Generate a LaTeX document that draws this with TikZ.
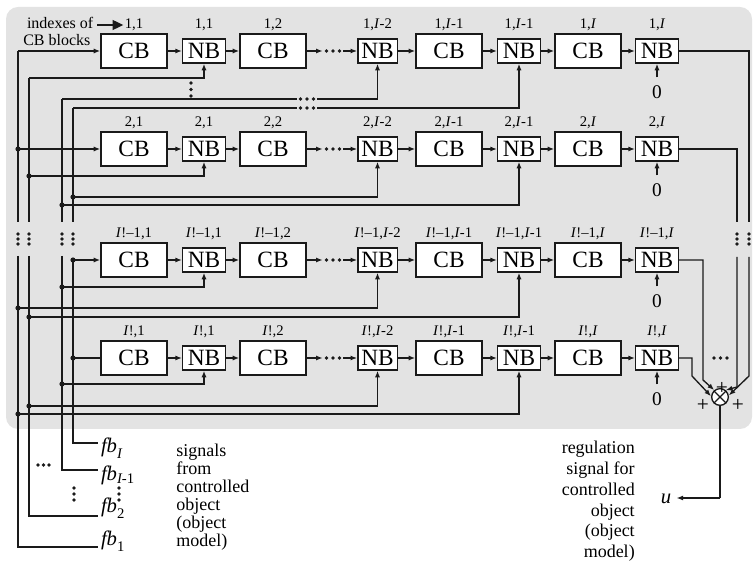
\documentclass[tikz,border=0pt]{standalone}
\usepackage{fontspec}
\setmainfont{Liberation Serif}
\usetikzlibrary{arrows.meta,calc}

\definecolor{panel}{HTML}{E3E3E3}
\definecolor{ink}{HTML}{1A1A1A}

\tikzset{
  wire/.style={draw=ink, line width=1pt},
  arr/.style={wire, -{Latex[length=5pt,width=3.8pt]}},
  cbbox/.style={draw=ink, line width=1pt, fill=white, inner sep=0pt,
    minimum width=49.5pt, minimum height=25.5pt,
    font=\fontsize{17.5}{17.5}\selectfont},
  nbbox/.style={cbbox, minimum width=32pt, minimum height=18pt},
  nbnarrow/.style={nbbox, minimum width=29.5pt},
  idx/.style={inner sep=0pt, font=\fontsize{11}{11}\selectfont},
  zero/.style={inner sep=0pt, outer ysep=6pt, font=\fontsize{14.5}{14.5}\selectfont},
  gap/.style={inner sep=0pt, minimum width=15pt, minimum height=0pt},
  sumnode/.style={circle, draw=ink, line width=1pt, fill=white,
    minimum size=12.5pt, inner sep=0pt},
  sign/.style={inner sep=0pt, font=\fontsize{16}{16}\selectfont},
  fbl/.style={inner sep=0pt, outer xsep=2.25pt, anchor=base west,
    font=\fontsize{15.5}{15.5}\selectfont\itshape},
  bigarrow/.style={wire, -{Triangle[length=8pt,width=7.5pt]}},
}

% three dots along a row / a column, centred on #1, #2 units apart
\newcommand\dotrow[2]{%
  \foreach \k in {-1,0,1} \fill[ink] ($(#1)+(\k*#2,0)$) circle (1.35pt);}
\newcommand\dotcol[2]{%
  \foreach \k in {-1,0,1} \fill[ink] ($(#1)+(0,\k*#2)$) circle (1.35pt);}
\newcommand\junction[1]{\fill[ink] (#1) circle (1.95pt);}

% one chain of CB/NB blocks: #1 tag, #2 centre line, #3 first index
\newcommand\blockrow[3]{%
  \node[cbbox]   (c#1a) at (134,#2) {CB};
  \node[nbbox]   (n#1a) at (204,#2) {NB};
  \node[cbbox]   (c#1b) at (273,#2) {CB};
  \node[gap]     (g#1)  at (333,#2) {};
  \node[nbnarrow](n#1b) at (377.5,#2) {NB};
  \node[cbbox]   (c#1c) at (449,#2) {CB};
  \node[nbbox]   (n#1c) at (519,#2) {NB};
  \node[cbbox]   (c#1d) at (588,#2) {CB};
  \node[nbbox]   (n#1d) at (657,#2) {NB};
  \dotrow{g#1}{6.5}
  \draw[arr] (c#1a) -- (n#1a);
  \draw[arr] (n#1a) -- (c#1b);
  \draw[arr] (c#1b) -- (g#1);
  \draw[arr] (g#1)  -- (n#1b);
  \draw[arr] (n#1b) -- (c#1c);
  \draw[arr] (c#1c) -- (n#1c);
  \draw[arr] (n#1c) -- (c#1d);
  \draw[arr] (c#1d) -- (n#1d);
  \node[idx] (l#1a) at (134,#2-26) {#3,1};
  \node[idx] (l#1b) at (204,#2-26) {#3,1};
  \node[idx] (l#1c) at (273,#2-26) {#3,2};
  \node[idx] (l#1d) at (377.5,#2-26) {#3,\textit{I}-2};
  \node[idx] (l#1e) at (449,#2-26) {#3,\textit{I}-1};
  \node[idx] (l#1f) at (519,#2-26) {#3,\textit{I}-1};
  \node[idx] (l#1g) at (588,#2-26) {#3,\textit{I}};
  \node[idx] (l#1h) at (657,#2-26) {#3,\textit{I}};
  \node[zero] (z#1) at (657,#2+41) {0};
  \draw[arr] (z#1) -- (n#1d);
}

\begin{document}
\begin{tikzpicture}[x=0.75pt,y=-0.75pt]
\useasboundingbox (0,0) rectangle (754,566);
\fill[panel, rounded corners=9pt] (6,7) rectangle (752,429);

% ---------------- block chains ----------------
\blockrow{1}{51}{1}
\blockrow{2}{149}{2}
\blockrow{3}{260}{\textit{I}!–1}
\blockrow{4}{358}{\textit{I}!}

% caption of the index labels
\node[inner sep=0pt, outer xsep=3pt, anchor=base west, font=\fontsize{12}{12}\selectfont]
  (ix1) at (23,29) {indexes of};
\node[inner sep=0pt, anchor=base west, font=\fontsize{12}{12}\selectfont]
  (ix2) at (23,45.5) {CB blocks};
\draw[bigarrow] (ix1.east |- l1a.west) -- ([xshift=-1pt]l1a.west);

% ---------------- feedback buses ----------------
\coordinate (a1) at (18,51);  \coordinate (a2) at (29,78);
\coordinate (a3) at (62,99);  \coordinate (a4) at (73,108);
\coordinate (u1) at (18,222); \coordinate (u2) at (29,222);
\coordinate (u3) at (62,222); \coordinate (u4) at (73,222);
\coordinate (v1) at (18,256); \coordinate (v2) at (29,256);
\coordinate (v3) at (62,256); \coordinate (v4) at (73,260);
\coordinate (e1) at (18,547); \coordinate (e2) at (29,516);
\coordinate (e3) at (62,470); \coordinate (e4) at (73,443);

\node[fbl] (fb1) at (98,546) {fb\raisebox{-4.5pt}{\fontsize{11}{11}\selectfont\upshape 1}};
\node[fbl] (fb2) at (98,513) {fb\raisebox{-4.5pt}{\fontsize{11}{11}\selectfont\upshape 2}};
\node[fbl] (fbJ) at (98,481) {fb\raisebox{-2pt}{\fontsize{11}{11}\selectfont\textit{I}\upshape -1}};
\node[fbl] (fbI) at (98,453) {fb\raisebox{-4.5pt}{\fontsize{11}{11}\selectfont\textit{I}}};

\draw[wire] (a1) -- (u1);  \draw[wire] (v1) -- (e1) -- (e1 -| fb1.west);
\draw[wire] (a2) -- (u2);  \draw[wire] (v2) -- (e2) -- (e2 -| fb2.west);
\draw[wire] (a3) -- (u3);  \draw[wire] (v3) -- (e3) -- (e3 -| fbJ.west);
\draw[wire] (a4) -- (u4);  \draw[wire] (v4) -- (e4) -- (e4 -| fbI.west);
\dotcol{18,239}{5} \dotcol{29,239}{5} \dotcol{62,239}{5} \dotcol{73,239}{5}

% row 1 taps
\draw[arr] (a1) -- (c1a);
\draw[arr] (a2) -| (n1a);
\node[gap] (k1) at (307,99) {};
\node[gap] (k2) at (307,108) {};
\draw[wire] (a3) -- (k1);  \draw[arr] (k1) -| (n1b);
\draw[wire] (a4) -- (k2);  \draw[arr] (k2) -| (n1c);
\dotrow{k1}{6.5} \dotrow{k2}{6.5}
\dotcol{191,89.5}{6.5}

% row 2 taps
\coordinate (b1) at (18,149); \coordinate (b2) at (29,176);
\coordinate (b3) at (73,197); \coordinate (b4) at (62,205);
\draw[arr] (b1) -- (c2a);
\draw[arr] (b2) -| (n2a);
\draw[arr] (b3) -| (n2b);
\draw[arr] (b4) -| (n2c);
\junction{b1} \junction{b2} \junction{b3} \junction{b4}

% row 3 taps
\coordinate (h1) at (73,260); \coordinate (h2) at (62,287);
\coordinate (h3) at (18,308); \coordinate (h4) at (29,317);
\draw[arr] (h1) -- (c3a);
\draw[arr] (h2) -| (n3a);
\draw[arr] (h3) -| (n3b);
\draw[arr] (h4) -| (n3c);
\junction{h1} \junction{h2} \junction{h3} \junction{h4}

% row 4 taps
\coordinate (m1) at (73,358); \coordinate (m2) at (62,384);
\coordinate (m3) at (29,406); \coordinate (m4) at (18,414);
\draw[wire] (m1) -- (c4a);
\draw[arr] (m2) -| (n4a);
\draw[arr] (m3) -| (n4b);
\draw[arr] (m4) -| (n4c);
\junction{m1} \junction{m2} \junction{m3} \junction{m4}

% omitted feedback signals
\dotrow{43.5,465}{5.5}
\dotcol{74,494}{6}
\dotcol{119,494}{6}

% ---------------- summation ----------------
\node[sumnode] (sum) at (720,397) {};
\draw[wire] (sum.45) -- (sum.225) (sum.135) -- (sum.315);

\coordinate (r1) at (749,222); \coordinate (r1b) at (749,257); \coordinate (r1c) at (749,376);
\coordinate (r2) at (737,222); \coordinate (r2b) at (737,257); \coordinate (r2c) at (737,387);
\coordinate (r3c) at (703,380); \coordinate (r4c) at (692,376);
\draw[wire] (n1d) -| (r1);  \draw[arr] (r1b) -- (r1c) -- (sum.10);
\draw[wire] (n2d) -| (r2);  \draw[arr] (r2b) -- (r2c) -- (sum.50);
\draw[arr] (n3d) -| (r3c) -- (sum.130);
\draw[arr] (n4d) -| (r4c) -- (sum.175);
\dotcol{737,239}{5} \dotcol{749,239}{5}
\dotrow{720.5,358}{6.5}

\node[sign] (p1) at (703,405) {+};
\node[sign] (p2) at (722,388) {+};
\node[sign] (p3) at (738,405) {+};

% output
\node[inner sep=0pt, outer xsep=4pt, font=\fontsize{15.5}{15.5}\selectfont\itshape]
  (uout) at (666,499) {u};
\coordinate (uo) at (720,498);
\draw[wire] (sum) -- (uo);
\draw[arr] (uo) -- (uo -| uout.east);

% ---------------- notes ----------------
\node[inner sep=0pt, anchor=north west, align=left, font=\fontsize{13.5}{13.4}\selectfont]
  (sig) at (176,444) {signals\\from\\controlled\\object\\(object\\model)};
\node[inner sep=0pt, anchor=north east, align=right, font=\fontsize{13.5}{15.6}\selectfont]
  (reg) at (635,441) {regulation\\signal for\\controlled\\object\\(object\\model)};
\end{tikzpicture}
\end{document}
